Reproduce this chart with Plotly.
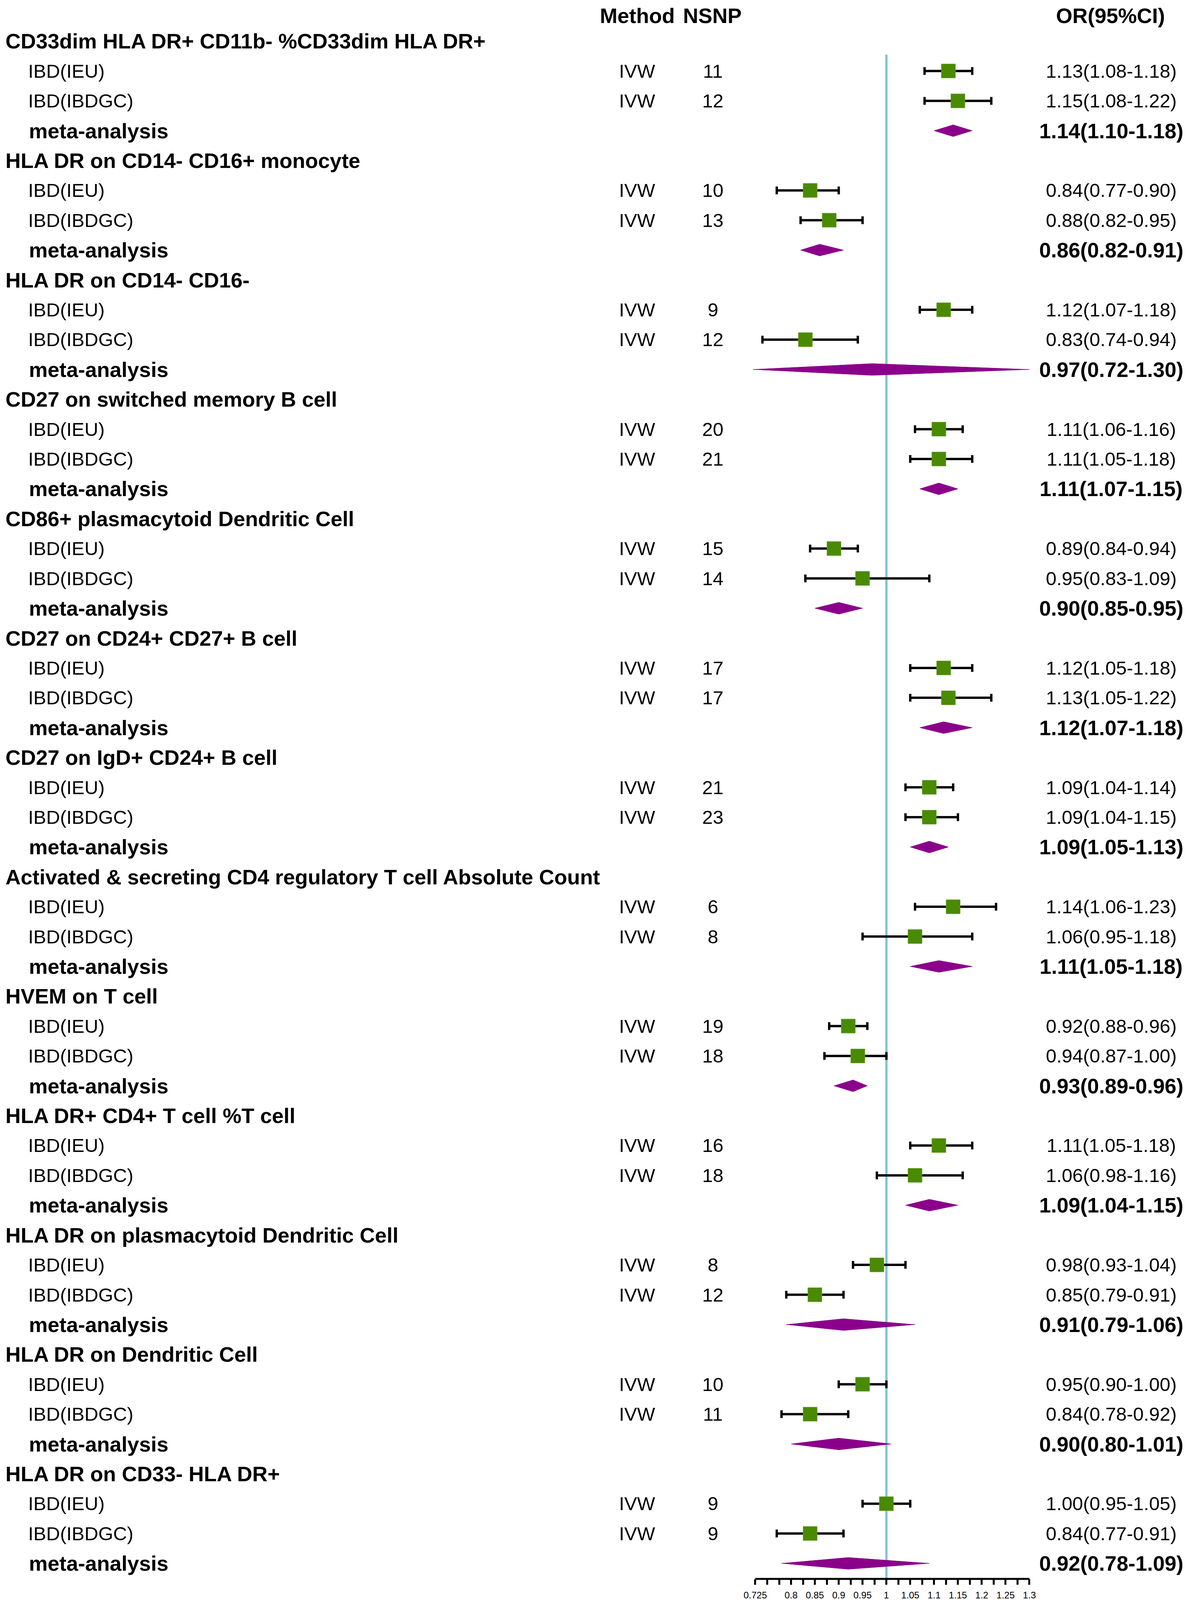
import plotly.graph_objects as go

groups = [
    "CD33dim HLA DR+ CD11b- %CD33dim HLA DR+",
    "HLA DR on CD14- CD16+ monocyte",
    "HLA DR on CD14- CD16-",
    "CD27 on switched memory B cell",
    "CD86+ plasmacytoid Dendritic Cell",
    "CD27 on CD24+ CD27+ B cell",
    "CD27 on IgD+ CD24+ B cell",
    "Activated & secreting CD4 regulatory T cell Absolute Count",
    "HVEM on T cell",
    "HLA DR+ CD4+ T cell %T cell",
    "HLA DR on plasmacytoid Dendritic Cell",
    "HLA DR on Dendritic Cell",
    "HLA DR on CD33- HLA DR+",
]

nsnp_ieu = [11, 10, 9, 20, 15, 17, 21, 6, 19, 16, 8, 10, 9]
or_ieu = [1.13, 0.84, 1.12, 1.11, 0.89, 1.12, 1.09, 1.14, 0.92, 1.11, 0.98, 0.95, 1.00]
lo_ieu = [1.08, 0.77, 1.07, 1.06, 0.84, 1.05, 1.04, 1.06, 0.88, 1.05, 0.93, 0.90, 0.95]
hi_ieu = [1.18, 0.90, 1.18, 1.16, 0.94, 1.18, 1.14, 1.23, 0.96, 1.18, 1.04, 1.00, 1.05]

nsnp_ibdgc = [12, 13, 12, 21, 14, 17, 23, 8, 18, 18, 12, 11, 9]
or_ibdgc = [1.15, 0.88, 0.83, 1.11, 0.95, 1.13, 1.09, 1.06, 0.94, 1.06, 0.85, 0.84, 0.84]
lo_ibdgc = [1.08, 0.82, 0.74, 1.05, 0.83, 1.05, 1.04, 0.95, 0.87, 0.98, 0.79, 0.78, 0.77]
hi_ibdgc = [1.22, 0.95, 0.94, 1.18, 1.09, 1.22, 1.15, 1.18, 1.00, 1.16, 0.91, 0.92, 0.91]

or_meta = [1.14, 0.86, 0.97, 1.11, 0.90, 1.12, 1.09, 1.11, 0.93, 1.09, 0.91, 0.90, 0.92]
lo_meta = [1.10, 0.82, 0.72, 1.07, 0.85, 1.07, 1.05, 1.05, 0.89, 1.04, 0.79, 0.80, 0.78]
hi_meta = [1.18, 0.91, 1.30, 1.15, 0.95, 1.18, 1.13, 1.18, 0.96, 1.15, 1.06, 1.01, 1.09]

tick_vals = [0.725 + 0.025 * i for i in range(24)]
tick_labels = ["0.725", "", "", "0.8", "", "0.85", "", "0.9", "", "0.95", "", "1", "",
               "1.05", "", "1.1", "", "1.15", "", "1.2", "", "1.25", "", "1.3"]

# the page only shows ~4096px of height (and an 8px body margin),
# so the layout is squeezed vertically to fit what gets photographed
W, H = 3034, 4088
SY = 4096 / 4900
OFF = 8

def px_x(v):
    return v - OFF

def px_y(v):
    return v * SY - OFF

FONT = "Arial, Liberation Sans, sans-serif"
GREEN = "#4a8a00"
PURPLE = "#8b008b"
VLINE = "#7fc7d1"

row0 = px_y(126)
row_sp = 91.4 * SY
plot_bottom = px_y(4835)
y_top = -row0 / row_sp
y_bot = (plot_bottom - row0) / row_sp

def ci_text(o, l, h):
    return f"{o:.2f}({l:.2f}-{h:.2f})"

fig = go.Figure()

# individual estimates
xs, ys, ep, em = [], [], [], []
for g in range(len(groups)):
    for k, (o, l, h) in enumerate([(or_ieu[g], lo_ieu[g], hi_ieu[g]),
                                   (or_ibdgc[g], lo_ibdgc[g], hi_ibdgc[g])]):
        xs.append(o)
        ys.append(4 * g + 1 + k)
        ep.append(h - o)
        em.append(o - l)

fig.add_trace(go.Scatter(
    x=xs, y=ys, mode="markers",
    marker=dict(symbol="square", size=36, color=GREEN,
                line=dict(color="#6aa530", width=1)),
    error_x=dict(type="data", symmetric=False, array=ep, arrayminus=em,
                 color="black", thickness=6, width=10),
    showlegend=False, hoverinfo="skip"))

# meta-analysis diamonds
dh = 18 / 91.4
dx, dy = [], []
for g in range(len(groups)):
    yc = 4 * g + 3
    dx += [lo_meta[g], or_meta[g], hi_meta[g], or_meta[g], lo_meta[g], None]
    dy += [yc, yc - dh, yc, yc + dh, yc, None]
fig.add_trace(go.Scatter(
    x=dx, y=dy, mode="lines", fill="toself", fillcolor=PURPLE,
    line=dict(color=PURPLE, width=1), showlegend=False, hoverinfo="skip"))

# reference line at OR = 1
fig.add_shape(type="line", xref="x", yref="y", x0=1, x1=1, y0=0.45, y1=y_bot,
              line=dict(color=VLINE, width=6), layer="below")
# x axis line
fig.add_shape(type="line", xref="x", yref="paper", x0=0.725, x1=1.3, y0=0, y1=0,
              line=dict(color="black", width=5))

ann = []

def txt(x, y, s, bold=False, anchor="left"):
    ann.append(dict(x=px_x(x) / W, y=y, xref="paper", yref="y",
                    text=f"<b>{s}</b>" if bold else s,
                    showarrow=False, xanchor=anchor, yanchor="middle",
                    font=dict(family=FONT, size=54 if bold else 49, color="black")))

# column headers, pinned to the top edge
for hx, hs in [(1632, "Method"), (1824, "NSNP"), (2843, "OR(95%CI)")]:
    ann.append(dict(x=px_x(hx) / W, y=1, xref="paper", yref="paper",
                    text=f"<b>{hs}</b>", showarrow=False,
                    xanchor="center", yanchor="top",
                    font=dict(family=FONT, size=54, color="black")))

for g, name in enumerate(groups):
    r = 4 * g
    txt(12, r, name, bold=True)
    txt(70, r + 1, "IBD(IEU)")
    txt(70, r + 2, "IBD(IBDGC)")
    txt(72, r + 3, "meta-analysis", bold=True)
    txt(1632, r + 1, "IVW", anchor="center")
    txt(1632, r + 2, "IVW", anchor="center")
    txt(1826, r + 1, str(nsnp_ieu[g]), anchor="center")
    txt(1826, r + 2, str(nsnp_ibdgc[g]), anchor="center")
    txt(2845, r + 1, ci_text(or_ieu[g], lo_ieu[g], hi_ieu[g]), anchor="center")
    txt(2845, r + 2, ci_text(or_ibdgc[g], lo_ibdgc[g], hi_ibdgc[g]), anchor="center")
    txt(2845, r + 3, ci_text(or_meta[g], lo_meta[g], hi_meta[g]), bold=True, anchor="center")

unit = (2636 - 1934) / 0.575
x0px = px_x(1934 - 0.025 * unit)
x1px = px_x(2636 + 0.02 * unit)

fig.update_layout(
    width=W, height=H,
    margin=dict(l=0, r=0, t=0, b=H - plot_bottom),
    paper_bgcolor="white", plot_bgcolor="white",
    annotations=ann,
    xaxis=dict(domain=[x0px / W, x1px / W], range=[0.70, 1.32],
               showgrid=False, zeroline=False, showline=False,
               tickmode="array", tickvals=tick_vals, ticktext=tick_labels,
               ticks="outside", ticklen=14, tickwidth=5, tickcolor="black",
               ticklabelstandoff=6,
               tickfont=dict(family=FONT, size=24, color="black")),
    yaxis=dict(range=[y_bot, y_top], visible=False, showgrid=False, zeroline=False),
)

fig.write_html("out.html")
